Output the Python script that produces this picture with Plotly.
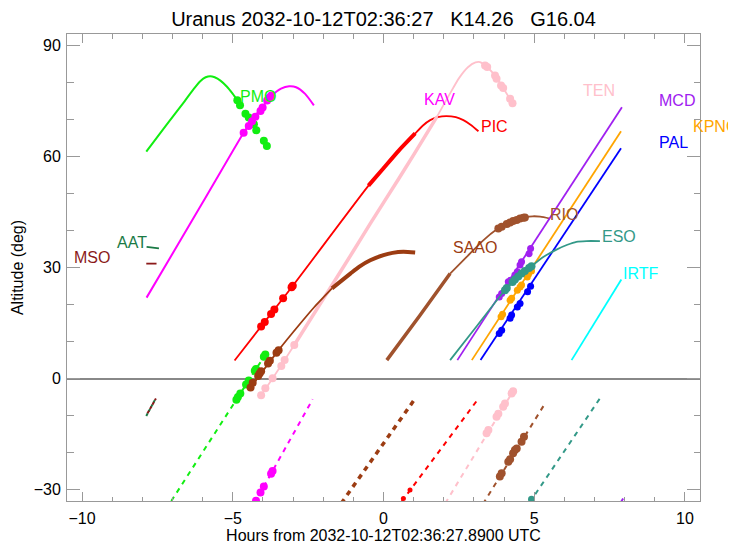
import plotly.graph_objects as go

# ---------------- data (hours from reference time, altitude in deg) ----------------
# PMO
pmo_up_x = [-7.87, -7.2, -6.6, -6.3, -6.07, -5.9, -5.75, -5.6, -5.41, -5.2, -5.0, -4.85]
pmo_up_y = [61.4, 68.6, 75.0, 78.3, 80.5, 81.5, 81.8, 81.5, 80.6, 79.0, 77.0, 75.3]
pmo_dot_x = [-4.85, -4.76, -4.58, -4.47, -4.30, -4.22, -3.97, -3.87]
pmo_dot_y = [75.3, 73.9, 71.6, 70.6, 68.8, 67.2, 64.3, 62.9]
pmo_low_x = [-7.04, -3.92]
pmo_low_y = [-33.1, 6.5]
pmo_lowdot_x = [-4.88, -4.83, -4.75, -4.56, -4.47, -4.27, -4.23, -3.97, -3.92]
pmo_lowdot_y = [-5.7, -5.0, -4.0, -1.6, -0.5, 2.1, 2.6, 5.9, 6.5]

# KAV
kav_up_x = [-7.86, -6.0, -4.64, -4.3, -4.0, -3.72, -3.4, -3.13, -2.9, -2.6, -2.31]
kav_up_y = [21.9, 47.6, 66.5, 70.6, 73.7, 76.4, 78.4, 79.05, 78.8, 77.0, 73.9]
kav_dot_x = [-4.64, -4.47, -4.36, -4.25, -4.08, -4.01, -3.86, -3.78, -3.72]
kav_dot_y = [66.5, 68.3, 69.6, 70.8, 72.4, 73.3, 75.2, 76.0, 76.6]
kav_low_x = [-4.30, -2.35]
kav_low_y = [-34.0, -5.6]
kav_lowdot_x = [-4.23, -4.08, -3.97, -3.73, -3.68]
kav_lowdot_y = [-33.0, -30.8, -29.2, -25.7, -25.0]

# PIC
pic_up_x = [-4.94, -3.0, -0.44, 0.0, 0.5, 1.05, 1.3, 1.55, 1.8, 2.08, 2.4, 2.65, 2.9, 3.15]
pic_up_y = [4.9, 25.2, 52.8, 56.9, 61.6, 66.3, 68.4, 69.9, 70.7, 71.0, 70.7, 69.9, 68.6, 66.9]
pic_thick_x = [-0.5, 0.0, 0.5, 1.05]
pic_thick_y = [52.2, 56.9, 61.6, 66.3]
pic_dot_x = [-4.06, -3.94, -3.73, -3.62, -3.33, -3.05, -3.01]
pic_dot_y = [14.1, 15.3, 17.5, 18.7, 21.7, 24.7, 25.1]
pic_low_x = [0.6, 3.15]
pic_low_y = [-33.3, -5.4]
pic_lowdot_x = [0.66, 0.88]
pic_lowdot_y = [-32.4, -30.1]

# TEN
ten_up_x = [-4.06, -3.68, -2.96, -2.0, -1.0, -0.44, 0.5, 1.0, 1.77, 2.2, 2.5, 2.8, 3.05, 3.2, 3.37, 3.7, 3.97, 4.28]
ten_up_y = [-4.5, 0.0, 9.1, 21.5, 34.5, 41.9, 54.0, 60.5, 70.8, 77.0, 81.2, 84.2, 85.5, 85.6, 84.7, 82.0, 78.6, 74.5]
ten_thick_x = [-2.96, -2.0, -1.0, -0.44, 0.5, 1.0, 1.77]
ten_thick_y = [9.1, 21.5, 34.5, 41.9, 54.0, 60.5, 70.8]
ten_dot_x = [-4.06, -3.92, -3.68, -3.39, -3.28, -2.96, 3.37, 3.44, 3.70, 3.75, 3.90, 3.97, 4.20, 4.28]
ten_dot_y = [-4.5, -2.6, 0.1, 3.4, 5.0, 9.1, 84.7, 84.3, 82.0, 81.1, 79.3, 78.6, 75.7, 74.5]
ten_low_x = [2.05, 4.30]
ten_low_y = [-33.7, -3.4]
ten_lowdot_x = [3.42, 3.48, 3.75, 3.81, 3.97, 4.03, 4.25, 4.30]
ten_lowdot_y = [-14.8, -13.9, -10.3, -9.5, -7.6, -6.7, -4.0, -3.4]

# SAAO
saao_up_x = [-4.41, -3.48, -2.76, -2.3, -1.71]
saao_up_y = [-2.4, 7.7, 14.9, 19.3, 24.4]
saao_thick_x = [-1.71, -1.1, -0.8, -0.44, 0.0, 0.3, 0.66, 1.05]
saao_thick_y = [24.4, 28.4, 30.3, 32.0, 33.4, 34.0, 34.3, 34.1]
saao_dot_x = [-4.41, -4.34, -4.16, -4.11, -4.06, -3.83, -3.77, -3.55, -3.48]
saao_dot_y = [-2.4, -1.1, 0.7, 1.4, 2.0, 4.1, 4.8, 7.0, 7.7]
saao_low_x = [-1.4, 1.05]
saao_low_y = [-33.7, -5.4]

# RIO
rio_thick_x = [0.11, 1.2, 2.21]
rio_thick_y = [5.0, 17.0, 28.4]
rio_up_x = [2.21, 2.76, 3.31, 3.75, 3.92, 4.2, 4.42, 4.69, 4.95, 5.2, 5.52]
rio_up_y = [28.4, 32.9, 37.4, 40.3, 41.1, 42.2, 42.9, 43.6, 43.9, 43.8, 43.3]
rio_dot_x = [3.81, 3.92, 4.09, 4.20, 4.30, 4.42, 4.53, 4.64, 4.69]
rio_dot_y = [40.6, 41.1, 41.8, 42.2, 42.6, 42.9, 43.3, 43.5, 43.6]
rio_low_x = [3.3, 5.39]
rio_low_y = [-33.9, -6.3]
rio_lowdot_x = [3.86, 3.92, 4.14, 4.20, 4.30, 4.36, 4.42, 4.58, 4.66]
rio_lowdot_y = [-26.5, -25.6, -22.5, -21.8, -20.2, -19.3, -18.9, -17.1, -15.7]

# MCD
mcd_up_x = [2.45, 7.91]
mcd_up_y = [5.0, 73.4]
mcd_dot_x = [3.84, 3.92, 4.14, 4.22, 4.36, 4.44, 4.53, 4.58, 4.83, 4.88]
mcd_dot_y = [22.1, 23.0, 26.2, 26.6, 28.0, 28.9, 30.7, 31.6, 33.8, 35.2]
mcd_low_x = [7.80, 7.95]
mcd_low_y = [-34.5, -32.4]

# KPNO
kpno_up_x = [2.93, 7.88]
kpno_up_y = [5.0, 66.9]
kpno_dot_x = [3.90, 3.95, 4.20, 4.25, 4.44, 4.53, 4.58, 4.77, 4.81, 4.91]
kpno_dot_y = [16.7, 17.4, 21.2, 21.7, 23.9, 24.8, 25.3, 27.5, 28.2, 29.1]

# PAL
pal_up_x = [3.22, 7.88]
pal_up_y = [5.0, 62.3]
pal_dot_x = [3.84, 3.92, 4.20, 4.25, 4.44, 4.53, 4.78, 4.88]
pal_dot_y = [12.2, 13.1, 16.3, 17.2, 19.4, 20.3, 23.5, 25.0]

# ESO
eso_up_x = [2.21, 3.0, 4.03, 4.5, 4.91, 5.3, 5.74, 6.1, 6.4, 6.73, 7.18]
eso_up_y = [5.0, 13.2, 23.9, 27.6, 30.4, 32.9, 34.9, 36.2, 37.0, 37.2, 37.2]
eso_dot_x = [4.03, 4.09, 4.28, 4.36, 4.47, 4.58, 4.69, 4.83, 4.91]
eso_dot_y = [23.9, 24.5, 26.1, 26.8, 27.6, 28.4, 29.1, 29.9, 30.4]
eso_low_x = [4.85, 7.20]
eso_low_y = [-33.5, -5.1]
eso_lowdot_x = [4.91]
eso_lowdot_y = [-32.6]

# IRTF
irtf_up_x = [6.24, 7.89]
irtf_up_y = [5.0, 26.8]

# AAT
aat_up_x = [-7.86, -7.45]
aat_up_y = [35.6, 35.2]
aat_low_x = [-7.87, -7.56]
aat_low_y = [-10.1, -5.4]

# MSO
mso_up_x = [-7.87, -7.53]
mso_up_y = [31.1, 31.1]
mso_low_x = [-7.83, -7.55]
mso_low_y = [-9.4, -5.4]

site_names = ["PMO", "KAV", "PIC", "TEN", "MCD", "KPNO", "PAL", "RIO", "SAAO", "ESO", "IRTF", "AAT", "MSO"]
# label anchor positions (data coordinates, left edge of text)
label_pos = {
    "PMO": (-4.84, 76.4), "KAV": (1.28, 75.5), "PIC": (3.16, 68.2), "TEN": (6.55, 77.8),
    "MCD": (9.08, 75.1), "KPNO": (10.2, 68.2), "PAL": (9.08, 63.8), "RIO": (5.46, 44.4),
    "SAAO": (2.24, 35.5), "ESO": (7.19, 38.4), "IRTF": (7.87, 28.5), "AAT": (-8.92, 36.7),
    "MSO": (-10.34, 32.7),
}

colors = {
    "PMO": "#11ee11", "KAV": "#ff00ff", "PIC": "#ff0000", "TEN": "#ffc0cb",
    "MCD": "#a020f0", "KPNO": "#ffa500", "PAL": "#0000ff", "RIO": "#a0522d",
    "SAAO": "#9c3c12", "ESO": "#339988", "IRTF": "#00ffff", "AAT": "#1a7a45",
    "MSO": "#8b1a1a",
}

FONT = "Liberation Sans, Arial, Helvetica, sans-serif"
DASH = "5px,5px"

fig = go.Figure()


def line(x, y, color, width=1.5, dash=None):
    fig.add_trace(go.Scatter(x=x, y=y, mode="lines",
                             line=dict(color=color, width=width, dash=dash, shape="spline", smoothing=0.6),
                             hoverinfo="skip", showlegend=False))


def dots(x, y, color, size=7):
    fig.add_trace(go.Scatter(x=x, y=y, mode="markers",
                             marker=dict(color=color, size=size, line=dict(width=0)),
                             hoverinfo="skip", showlegend=False))


# PMO
c = colors["PMO"]
line(pmo_up_x, pmo_up_y, c, 2)
dots(pmo_dot_x, pmo_dot_y, c, 8)
line(pmo_low_x, pmo_low_y, c, 2, DASH)
dots(pmo_lowdot_x, pmo_lowdot_y, c, 8)
# KAV
c = colors["KAV"]
line(kav_up_x, kav_up_y, c, 2)
dots(kav_dot_x, kav_dot_y, c, 8)
line(kav_low_x, kav_low_y, c, 2, DASH)
dots(kav_lowdot_x, kav_lowdot_y, c, 8)
# PIC
c = colors["PIC"]
line(pic_up_x, pic_up_y, c, 1.8)
line(pic_thick_x, pic_thick_y, c, 4)
dots(pic_dot_x, pic_dot_y, c, 8)
line(pic_low_x, pic_low_y, c, 2, DASH)
dots(pic_lowdot_x, pic_lowdot_y, c, 5)
# TEN
c = colors["TEN"]
line(ten_up_x, ten_up_y, c, 1.8)
line(ten_thick_x, ten_thick_y, c, 3.5)
dots(ten_dot_x, ten_dot_y, c, 8)
line(ten_low_x, ten_low_y, c, 2, DASH)
dots(ten_lowdot_x, ten_lowdot_y, c, 8)
# SAAO
c = colors["SAAO"]
line(saao_up_x, saao_up_y, c, 1.8)
line(saao_thick_x, saao_thick_y, c, 4)
dots(saao_dot_x, saao_dot_y, c, 8)
line(saao_low_x, saao_low_y, c, 3.5, DASH)
# RIO
c = colors["RIO"]
line(rio_thick_x, rio_thick_y, c, 3.5)
line(rio_up_x, rio_up_y, c, 1.8)
dots(rio_dot_x, rio_dot_y, c, 8)
line(rio_low_x, rio_low_y, c, 2, DASH)
dots(rio_lowdot_x, rio_lowdot_y, c, 8)
# MCD
c = colors["MCD"]
line(mcd_up_x, mcd_up_y, c, 1.8)
dots(mcd_dot_x, mcd_dot_y, c, 7)
line(mcd_low_x, mcd_low_y, c, 2)
# KPNO
c = colors["KPNO"]
line(kpno_up_x, kpno_up_y, c, 1.8)
dots(kpno_dot_x, kpno_dot_y, c, 7)
# PAL
c = colors["PAL"]
line(pal_up_x, pal_up_y, c, 1.8)
dots(pal_dot_x, pal_dot_y, c, 7)
# ESO
c = colors["ESO"]
line(eso_up_x, eso_up_y, c, 1.8)
dots(eso_dot_x, eso_dot_y, c, 8)
line(eso_low_x, eso_low_y, c, 2, DASH)
dots(eso_lowdot_x, eso_lowdot_y, c, 7)
# IRTF
line(irtf_up_x, irtf_up_y, colors["IRTF"], 1.8)
# AAT
line(aat_up_x, aat_up_y, colors["AAT"], 1.8)
line(aat_low_x, aat_low_y, colors["AAT"], 2, "3px,2px")
# MSO
line(mso_up_x, mso_up_y, colors["MSO"], 1.8)
line(mso_low_x, mso_low_y, colors["MSO"], 2, "3px,2px")

for name in site_names:
    lx, ly = label_pos[name]
    fig.add_annotation(x=lx, y=ly, xref="x", yref="y", text=name, showarrow=False,
                       xanchor="left", yanchor="middle",
                       font=dict(family=FONT, size=16, color=colors[name]))

axis_common = dict(
    showline=True, linecolor="#999999", linewidth=1, mirror="ticks",
    ticks="inside", tickcolor="#999999", showgrid=False, automargin=False,
    tickfont=dict(family=FONT, size=16, color="black"),
)

# page body adds an 8px offset, so the figure is 728x536 inside the 736x544 window
W, H = 728, 536
fig.update_layout(
    width=W, height=H,
    paper_bgcolor="white", plot_bgcolor="white",
    margin=dict(l=59, r=36, t=26, b=43, autoexpand=False),
    title=dict(text="Uranus 2032-10-12T02:36:27\u00a0\u00a0\u00a0K14.26\u00a0\u00a0\u00a0G16.04",
               x=0.5, xref="paper", xanchor="center",
               y=1 - 11 / H, yref="container", yanchor="middle",
               font=dict(family=FONT, size=20, color="black")),
    xaxis=dict(range=[-10.5, 10.5], dtick=5, tick0=0, ticklen=9, zeroline=False,
               ticklabelstandoff=3,
               minor=dict(dtick=1, ticklen=4.5, ticks="inside", tickcolor="#999999"),
               title=dict(text="Hours from 2032-10-12T02:36:27.8900 UTC",
                          font=dict(family=FONT, size=16, color="black"), standoff=6),
               **axis_common),
    yaxis=dict(range=[-33.1, 93.2], dtick=30, tick0=0, ticklen=13,
               zeroline=True, zerolinecolor="#888888", zerolinewidth=1.5,
               ticklabelstandoff=2,
               minor=dict(dtick=10, ticklen=6.5, ticks="inside", tickcolor="#999999"),
               title=dict(text="Altitude (deg)",
                          font=dict(family=FONT, size=16, color="black"), standoff=6),
               **axis_common),
)

fig.write_html("out.html")
